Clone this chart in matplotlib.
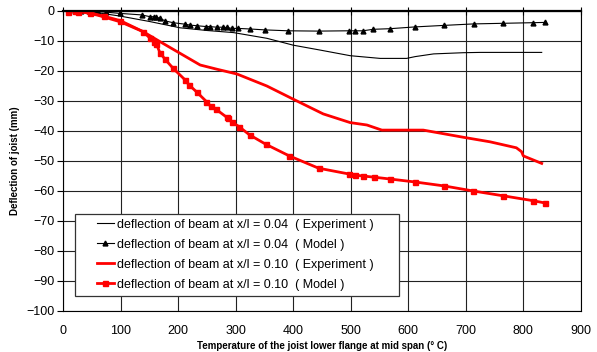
import matplotlib
matplotlib.use("Agg")
import matplotlib.pyplot as plt
from matplotlib.patches import Rectangle
import numpy as np

plt.rcParams['font.family'] = ['Liberation Sans', 'DejaVu Sans']

# x/l = 0.04, experiment (thin black line)
t_exp04 = [6, 50, 99, 150, 203, 250, 296, 354, 400, 446, 499, 551, 597, 612, 644, 696, 725, 832]
d_exp04 = [0, -0.4, -1.8, -3.6, -5.7, -6.6, -7.3, -9.2, -11.5, -13.1, -15.0, -15.9, -15.9, -15.3, -14.4, -14.0, -13.9, -13.9]

# x/l = 0.04, model (triangles)
t_mod04 = [20, 30, 45, 60, 75, 99, 136, 151, 157, 162, 168, 177, 191, 212, 220, 232, 249, 255,
           267, 278, 284, 293, 304, 325, 351, 391, 444, 496, 508, 521, 539, 568, 612, 662,
           714, 765, 816, 838]
d_mod04 = [0, -0.1, -0.2, -0.3, -0.5, -0.9, -1.4, -2.0, -2.0, -2.2, -2.5, -3.4, -4.0, -4.5, -4.8,
           -5.0, -5.3, -5.3, -5.5, -5.5, -5.6, -5.9, -5.9, -6.1, -6.4, -6.7, -6.8, -6.7, -6.7,
           -6.7, -6.2, -6.0, -5.4, -4.9, -4.4, -4.2, -4.0, -3.9]

# x/l = 0.10, experiment (thick red line)
t_exp10 = [5, 30, 60, 99, 139, 168, 203, 238, 267, 302, 354, 400, 452, 499, 528, 554, 626,
           696, 742, 788, 797, 800, 832]
d_exp10 = [0, -0.3, -1.5, -3.7, -7.0, -10.3, -14.2, -18.1, -19.5, -21.1, -25.1, -29.5, -34.4,
           -37.3, -38.1, -39.8, -39.8, -42.2, -43.7, -45.7, -47.0, -48.4, -50.9]

# x/l = 0.10, model (squares)
t_mod10 = [9, 20, 26, 46, 70, 99, 139, 151, 158, 162, 168, 177, 191, 212, 219, 232, 249, 256,
           266, 284, 286, 294, 306, 324, 352, 393, 444, 496, 508, 521, 541, 568, 612, 662,
           713, 765, 816, 838]
d_mod10 = [-0.3, -0.1, -0.3, -0.7, -1.8, -3.3, -7.0, -9.2, -10.3, -11.1, -14.0, -16.2, -19.2,
           -23.1, -24.8, -27.1, -30.3, -31.8, -32.9, -35.5, -35.9, -37.2, -38.7, -41.4, -44.5,
           -48.4, -52.5, -54.4, -54.8, -55.1, -55.5, -56.1, -57.1, -58.4, -60.1, -61.7, -63.3,
           -64.1]

labels = ['deflection of beam at x/l = 0.04  ( Experiment )',
          'deflection of beam at x/l = 0.04  ( Model )',
          'deflection of beam at x/l = 0.10  ( Experiment )',
          'deflection of beam at x/l = 0.10  ( Model )']

fig = plt.figure(figsize=(5.97, 3.52), dpi=100)
ax = fig.add_axes([63.3 / 597, (352 - 310.7) / 352, 517.5 / 597, 300 / 352])

ax.plot(t_exp04, d_exp04, color='black', lw=0.8, label=labels[0])
ax.plot(t_mod04, d_mod04, color='black', lw=0.8, marker='^', ms=3.5, label=labels[1])
ax.plot(t_exp10, d_exp10, color='#ff0000', lw=2, label=labels[2])
ax.plot(t_mod10, d_mod10, color='#ff0000', lw=2, marker='s', ms=3.6, label=labels[3])

ax.set_xlim(0, 900)
ax.set_ylim(-100, 0)
ax.set_xticks(np.arange(0, 901, 100))
ax.set_yticks(np.arange(-100, 1, 10))
ax.grid(True, color='#222222', lw=0.8)
ax.set_axisbelow(True)

for s in ax.spines.values():
    s.set_color('black')
    s.set_linewidth(0.8)
ax.spines['top'].set_linewidth(1.6)

ax.tick_params(axis='x', bottom=False, top=True, direction='inout', length=6, width=0.8,
               labelsize=9, pad=7)
ax.tick_params(axis='y', direction='out', length=4, width=0.8, labelsize=9, pad=2)

ax.set_xlabel('Temperature of the joist lower flange at mid span (° C)', fontsize=7,
              fontweight='bold', labelpad=3)
ax.set_ylabel('Deflection of joist (mm)', fontsize=7, fontweight='bold', labelpad=5)

# legend box drawn separately (wide side padding like the original)
box = Rectangle((0.0226, 0.05), 0.6254, 0.2713, transform=ax.transAxes,
                facecolor='white', edgecolor='#333333', lw=0.9, zorder=4)
ax.add_patch(box)
leg = ax.legend(loc='upper left', bbox_to_anchor=(0.0645, 0.307), fontsize=9,
                frameon=False, handlelength=1.36, handletextpad=0.27,
                labelspacing=0.64, borderpad=0, borderaxespad=0)
leg.set_zorder(5)

fig.savefig('out.png', dpi=100)
